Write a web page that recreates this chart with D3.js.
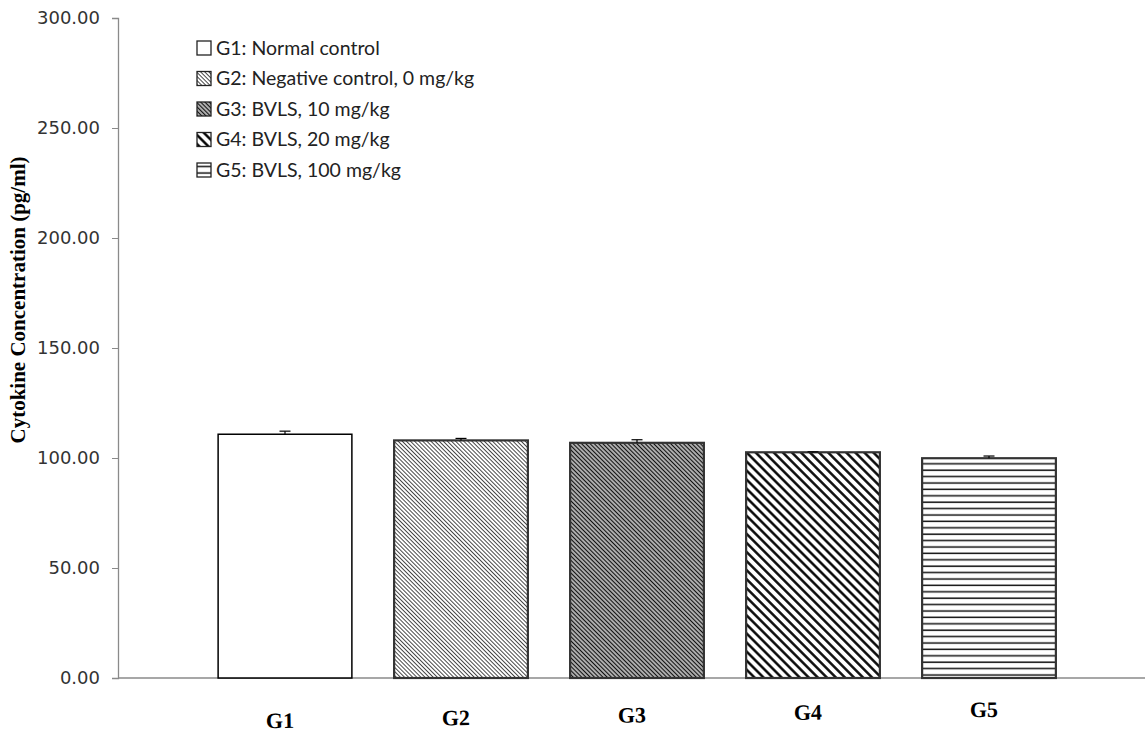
<!DOCTYPE html>
<html>
<head>
<meta charset="utf-8">
<script src="https://cdn.jsdelivr.net/npm/d3@7"></script>
<style>
  body { margin: 0; background: #fff; }
</style>
</head>
<body>
<div id="chart"></div>
<script>
// data
const groups = ["G1", "G2", "G3", "G4", "G5"];
const means = [110.8, 108.0, 106.9, 102.6, 99.9];
const errors = [1.4, 0.9, 1.4, 0.2, 1.0];
const legendLabels = [
  "G1: Normal control",
  "G2: Negative control, 0 mg/kg",
  "G3: BVLS, 10 mg/kg",
  "G4: BVLS, 20 mg/kg",
  "G5: BVLS, 100 mg/kg"
];
const yTicks = [0, 50, 100, 150, 200, 250, 300];

var svgWidth = 1145;
var svgHeight = 732;

var svg = d3.select("#chart")
  .append("svg")
  .attr("width", svgWidth)
  .attr("height", svgHeight);

// fill patterns, one per group
var defs = svg.append("defs");

function diag(id, size, stroke, width) {
  var p = defs.append("pattern")
    .attr("id", id)
    .attr("patternUnits", "userSpaceOnUse")
    .attr("width", size)
    .attr("height", size)
    .attr("patternTransform", "rotate(-45)");
  p.append("rect").attr("width", size).attr("height", size).attr("fill", "#fff");
  p.append("line")
    .attr("x1", size / 2).attr("y1", 0)
    .attr("x2", size / 2).attr("y2", size)
    .attr("stroke", stroke)
    .attr("stroke-width", width);
}
diag("p2", 2.9, "#444", 1.0);
diag("p3", 3.0, "#111", 1.7);
diag("p4", 6.4, "#000", 2.4);

var hp = defs.append("pattern")
  .attr("id", "p5")
  .attr("patternUnits", "userSpaceOnUse")
  .attr("width", 8)
  .attr("height", 6.4);
hp.append("rect").attr("width", 8).attr("height", 6.4).attr("fill", "#fff");
hp.append("line")
  .attr("x1", 0).attr("y1", 3).attr("x2", 8).attr("y2", 3)
  .attr("stroke", "#111").attr("stroke-width", 1.5);

const fills = ["#fff", "url(#p2)", "url(#p3)", "url(#p4)", "url(#p5)"];

// scales
var yScale = d3.scaleLinear()
  .domain([0, 300])
  .range([678, 18]);

var xScale = d3.scaleBand()
  .domain(groups)
  .range([197, 1077])
  .paddingInner(0.24)
  .paddingOuter(0.12);

// y axis
var yAxis = svg.append("g")
  .attr("transform", "translate(118,0)")
  .call(d3.axisLeft(yScale).tickValues(yTicks).tickSize(6).tickPadding(12)
    .tickFormat(d3.format(".2f")));
yAxis.select(".domain").attr("stroke", "#8a8a8a").attr("stroke-width", 1.3);
yAxis.selectAll(".tick line").attr("stroke", "#8a8a8a");
yAxis.selectAll(".tick text")
  .attr("font-family", "DejaVu Sans, sans-serif")
  .attr("font-size", "18px")
  .attr("fill", "#333");

// x axis baseline runs to the right edge
svg.append("line")
  .attr("x1", 118).attr("x2", svgWidth)
  .attr("y1", yScale(0)).attr("y2", yScale(0))
  .attr("stroke", "#8a8a8a")
  .attr("stroke-width", 1.3);

// bars
svg.selectAll(".bar")
  .data(groups)
  .enter()
  .append("rect")
  .attr("class", "bar")
  .attr("x", d => xScale(d))
  .attr("width", xScale.bandwidth())
  .attr("y", (d, i) => yScale(means[i]))
  .attr("height", (d, i) => yScale(0) - yScale(means[i]))
  .attr("fill", (d, i) => fills[i])
  .attr("stroke", (d, i) => i == 0 ? "#000" : "#333")
  .attr("stroke-width", (d, i) => i == 0 ? 1.5 : 2.2);

// error bars (upper only)
var eb = svg.selectAll(".err")
  .data(groups)
  .enter()
  .append("g")
  .attr("class", "err");
eb.append("line")
  .attr("x1", d => xScale(d) + xScale.bandwidth() / 2)
  .attr("x2", d => xScale(d) + xScale.bandwidth() / 2)
  .attr("y1", (d, i) => yScale(means[i]))
  .attr("y2", (d, i) => yScale(means[i] + errors[i]))
  .attr("stroke", "#000").attr("stroke-width", 1.2);
eb.append("line")
  .attr("x1", d => xScale(d) + xScale.bandwidth() / 2 - 5.5)
  .attr("x2", d => xScale(d) + xScale.bandwidth() / 2 + 5.5)
  .attr("y1", (d, i) => yScale(means[i] + errors[i]))
  .attr("y2", (d, i) => yScale(means[i] + errors[i]))
  .attr("stroke", "#000").attr("stroke-width", 1.2);

// category labels (the scan is slightly tilted, so the row is too)
svg.append("g")
  .attr("transform", "rotate(-0.9, 988, 717)")
  .selectAll(".cat")
  .data(groups)
  .enter()
  .append("text")
  .attr("class", "cat")
  .attr("x", d => xScale(d) + xScale.bandwidth() / 2 - 5)
  .attr("y", 717)
  .attr("text-anchor", "middle")
  .attr("font-family", "Liberation Serif, serif")
  .attr("font-weight", "bold")
  .attr("font-size", "22px")
  .text(d => d);

// y axis title
svg.append("text")
  .attr("text-anchor", "middle")
  .attr("transform", "translate(25, 300) rotate(-90)")
  .attr("font-family", "Liberation Serif, serif")
  .attr("font-weight", "bold")
  .attr("font-size", "21px")
  .text("Cytokine Concentration (pg/ml)");

// legend
var legend = svg.selectAll(".legend")
  .data(legendLabels)
  .enter()
  .append("g")
  .attr("class", "legend")
  .attr("transform", (d, i) => `translate(197, ${48 + i * 30.5})`);
legend.append("rect")
  .attr("x", 0).attr("y", -7)
  .attr("width", 14).attr("height", 14)
  .attr("fill", (d, i) => fills[i])
  .attr("stroke", "#222").attr("stroke-width", 1.3);
legend.append("text")
  .attr("x", 19).attr("y", 0)
  .attr("dy", "0.35em")
  .attr("font-family", "Lato, sans-serif")
  .attr("font-size", "19.5px")
  .attr("fill", "#222")
  .text(d => d);
</script>
</body>
</html>
